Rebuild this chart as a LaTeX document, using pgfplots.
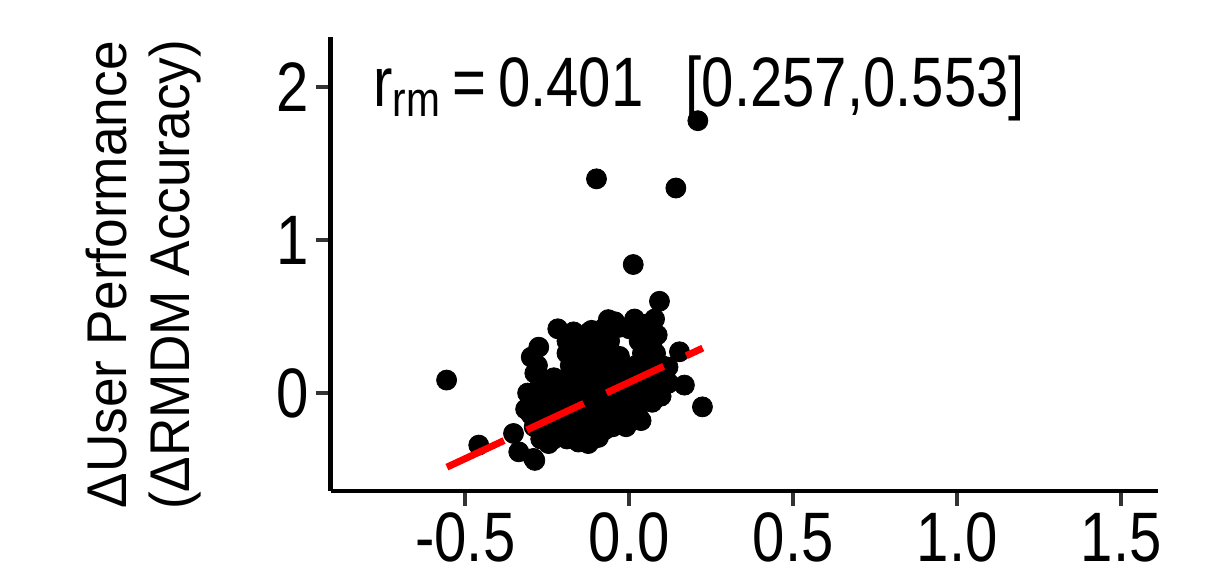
\documentclass[border=0pt]{standalone}
\usepackage{fontspec}
\setmainfont{Liberation Sans}[FakeStretch=0.83]
\newfontfamily\ylabfont{Liberation Sans}[FakeStretch=0.95]
\usepackage{pgfplots}
\pgfplotsset{compat=1.18}
\usepackage{pgfplotstable}

% outer / isolated points
\pgfplotstableread{
x y
-0.557 0.085
-0.459 -0.34
-0.353 -0.264
-0.337 -0.384
-0.292 -0.427
-0.246 -0.33
-0.155 -0.32
-0.125 -0.33
-0.075 -0.24
0.026 -0.144
0.223 -0.09
0.168 0.052
0.153 0.27
0.092 0.60
0.012 0.84
-0.100 1.40
0.142 1.34
0.209 1.78
-0.218 0.42
-0.121 0.40
-0.064 0.48
-0.044 0.466
0.016 0.484
0.077 0.484
0.085 0.38
-0.276 0.30
-0.299 0.235
-0.288 0.13
-0.310 0.0
-0.316 -0.105
-0.288 -0.44
-0.245 -0.31
0.118 0.17
0.120 0.065
0.097 -0.02
0.036 -0.18
-0.055 -0.22
-0.094 -0.29
-0.115 0.41
-0.185 0.28
-0.17 0.40
0.05 0.45
-0.03 0.43
}\outer

% dense central cluster
\pgfplotstableread{
x y
-0.27 -0.30
-0.23 -0.30
-0.19 -0.30
-0.15 -0.30
-0.11 -0.30
-0.29 -0.22
-0.25 -0.22
-0.21 -0.22
-0.17 -0.22
-0.13 -0.22
-0.09 -0.22
-0.05 -0.22
-0.01 -0.22
-0.30 -0.14
-0.26 -0.14
-0.22 -0.14
-0.18 -0.14
-0.14 -0.14
-0.10 -0.14
-0.06 -0.14
-0.02 -0.14
0.02 -0.14
-0.29 -0.06
-0.25 -0.06
-0.21 -0.06
-0.17 -0.06
-0.13 -0.06
-0.09 -0.06
-0.05 -0.06
-0.01 -0.06
0.03 -0.06
0.07 -0.06
-0.28 0.02
-0.24 0.02
-0.20 0.02
-0.16 0.02
-0.12 0.02
-0.08 0.02
-0.04 0.02
0.00 0.02
0.04 0.02
0.08 0.02
-0.27 0.10
-0.23 0.10
-0.19 0.10
-0.15 0.10
-0.11 0.10
-0.07 0.10
-0.03 0.10
0.01 0.10
0.05 0.10
0.09 0.10
-0.28 0.18
-0.18 0.18
-0.14 0.18
-0.10 0.18
-0.06 0.18
-0.02 0.18
0.02 0.18
0.06 0.18
0.10 0.18
-0.19 0.26
-0.15 0.26
-0.11 0.26
-0.07 0.26
-0.03 0.24
0.04 0.26
0.08 0.26
-0.19 0.34
-0.15 0.34
-0.10 0.34
-0.06 0.34
0.03 0.34
0.07 0.34
-0.08 0.42
0.00 0.42
}\cluster

\definecolor{tickgray}{HTML}{333333}

\begin{document}
\begin{tikzpicture}
\begin{axis}[
  set layers,
  scale only axis,
  width=413.75pt, height=227pt,
  xmin=-0.911, xmax=1.612,
  ymin=-0.64, ymax=2.327,
  axis lines*=left,
  axis line style={-, line width=2.3pt, black},
  xtick={-0.5,0,0.5,1,1.5},
  xticklabels={-0.5,0.0,0.5,1.0,1.5},
  ytick={0,1,2},
  tick align=outside,
  major tick length=7.5pt,
  tick style={line width=2pt, tickgray},
  /pgf/number format/assume math mode=true,
  ticklabel style={font=\fontsize{35}{40}\selectfont},
  clip=false,
]
\addplot[only marks, mark=*, mark size=5pt, black] table {\cluster};
\addplot[only marks, mark=*, mark size=5pt, black] table {\outer};
\addplot[red, line width=3.5pt, dash pattern=on 31.5pt off 12.5pt, on layer=axis foreground]
  coordinates {(-0.556,-0.484) (0.224,0.294)};
\node[anchor=base west, inner sep=0pt, font=\fontsize{35}{40}\selectfont]
  at (axis cs:-0.782,1.87) {r\textsubscript{rm}\,=\,0.401\hspace{0.6em}[0.257,0.553]};
\node[rotate=90, anchor=south, align=center, inner sep=0pt,
      font=\ylabfont\fontsize{28}{31.5}\selectfont]
  at (axis description cs:-0.1553,0.476) {ΔUser Performance\\(ΔRMDM Accuracy)};
\end{axis}
% page size = reference size (1px = 0.5pt)
\pgfresetboundingbox
\path (-165.25pt,-44.5pt) rectangle (449.25pt,245.5pt);
\end{tikzpicture}
\end{document}
